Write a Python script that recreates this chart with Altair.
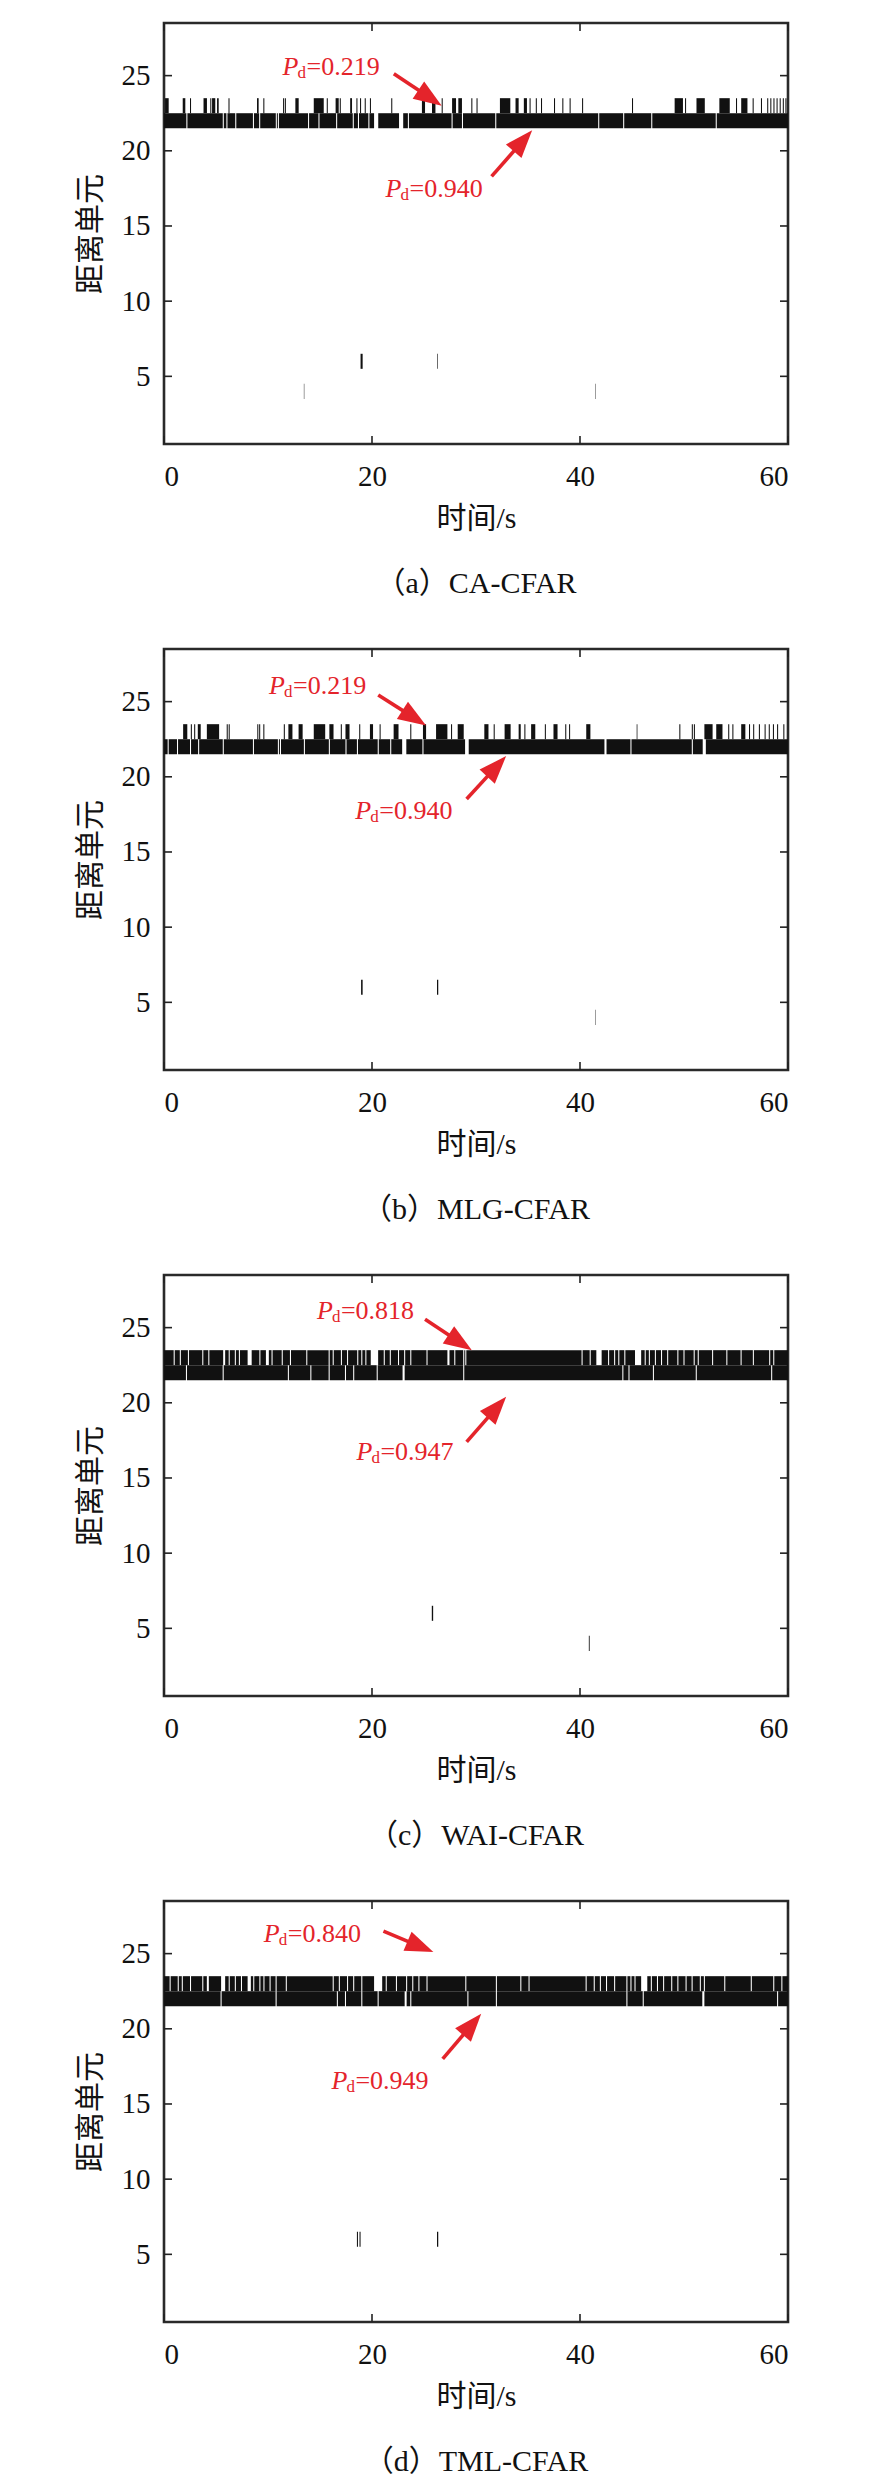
import math
import altair as alt
import pandas as pd

# ---------------- data ----------------
X_DOMAIN = [0, 60]
Y_DOMAIN = [0.5, 28.5]
X_TICKS = [0, 20, 40, 60]
Y_TICKS = [5, 10, 15, 20, 25]
MAIN_CELL = 22
SIDE_CELL = 23

CAPTIONS = ["（a）CA-CFAR", "（b）MLG-CFAR", "（c）WAI-CFAR", "（d）TML-CFAR"]
X_TITLE = "时间/s"
Y_TITLE = "距离单元"

# (a) CA-CFAR
a_cell23_hits = [(0.1, 0.45), (1.8, 2.05), (2.5, 2.6), (3.8, 4.13), (4.45, 4.55), (4.62, 4.93),
                 (5.1, 5.26), (6.2, 6.3), (8.94, 9.1), (9.55, 9.65), (11.45, 11.55), (11.62, 11.72),
                 (12.63, 12.95), (14.4, 15.36), (15.65, 15.75), (16.5, 16.8), (16.9, 17.0),
                 (17.9, 18.08), (18.5, 18.6), (18.85, 18.95), (19.3, 19.4), (19.8, 19.9),
                 (21.85, 21.95), (24.8, 25.1), (25.77, 26.1), (26.7, 26.8), (27.7, 28.08),
                 (28.3, 28.65), (29.55, 29.65), (30.05, 30.15), (32.3, 33.3), (33.8, 34.1),
                 (34.6, 34.9), (35.15, 35.25), (35.75, 35.85), (36.25, 36.35), (37.5, 37.6),
                 (38.3, 38.4), (39.0, 39.1), (40.2, 40.3), (45.0, 45.1), (49.1, 49.9),
                 (50.1, 50.2), (51.2, 52.0), (53.4, 54.4), (55.0, 55.1), (55.5, 56.1),
                 (56.6, 56.7), (57.4, 57.5), (58.0, 58.1), (58.3, 58.4), (58.6, 58.7),
                 (58.9, 59.0), (59.2, 59.3), (59.5, 59.6), (59.75, 59.85)]
a_cell22_gaps = [(2.15, 2.25), (5.65, 5.75), (6.0, 6.1), (6.85, 6.95), (8.55, 8.65), (9.15, 9.25),
                 (10.75, 10.85), (10.95, 11.05), (13.85, 13.95), (14.85, 14.95), (16.55, 16.65),
                 (18.15, 18.25), (18.65, 18.75), (19.65, 19.75), (20.2, 20.6), (22.6, 23.0),
                 (23.45, 23.55), (27.65, 27.75), (28.65, 28.75), (31.85, 31.95), (41.75, 41.85),
                 (44.15, 44.25), (46.85, 46.95), (53.05, 53.15)]
a_isolated = [(6, 18.9, 19.1), (6, 26.25, 26.31), (4, 13.45, 13.49), (4, 41.45, 41.49)]
a_notes = [("0.219", 11.4, 25.02, 22.1, 25.13, 26.7, 23.0),
           ("0.940", 21.3, 16.93, 31.5, 18.3, 35.4, 21.37)]

# (b) MLG-CFAR
b_cell23_hits = [(1.84, 2.24), (2.58, 2.68), (2.9, 3.0), (3.25, 3.53), (4.12, 5.3), (6.03, 6.13),
                 (6.22, 6.32), (8.97, 9.07), (9.15, 9.25), (9.55, 9.65), (11.52, 11.62),
                 (11.96, 12.35), (12.94, 13.33), (14.4, 15.5), (15.9, 16.3), (17.0, 17.1),
                 (17.45, 17.84), (18.77, 18.87), (19.8, 20.1), (20.73, 20.83), (22.08, 22.55),
                 (23.68, 23.78), (24.9, 25.2), (26.16, 27.25), (27.6, 27.7), (28.24, 28.82),
                 (30.8, 31.2), (31.7, 31.8), (32.75, 33.33), (34.1, 34.3), (34.65, 34.75),
                 (35.3, 35.7), (36.62, 36.72), (37.45, 37.84), (38.58, 38.68), (38.95, 39.05),
                 (40.6, 41.0), (45.45, 45.52), (49.55, 49.65), (50.75, 50.85), (50.95, 51.05),
                 (51.96, 52.75), (53.1, 53.7), (54.25, 54.35), (54.65, 54.75), (55.5, 55.9),
                 (56.25, 56.35), (56.65, 56.75), (57.2, 57.3), (57.75, 57.85), (58.15, 58.25),
                 (58.55, 58.65), (58.95, 59.05), (59.55, 59.65)]
b_cell22_gaps = [(0.35, 0.45), (1.25, 1.35), (2.5, 2.6), (3.28, 3.38), (5.65, 5.75), (8.55, 8.65),
                 (10.95, 11.05), (11.15, 11.25), (13.45, 13.55), (15.85, 15.95), (17.45, 17.55),
                 (18.55, 18.65), (20.55, 20.65), (21.75, 21.85), (22.9, 23.3), (24.85, 24.95),
                 (28.95, 29.3), (42.35, 42.55), (44.85, 44.95), (50.75, 50.85), (51.8, 52.1)]
b_isolated = [(6, 18.95, 19.1), (6, 26.25, 26.37), (4, 41.45, 41.49)]
b_notes = [("0.219", 10.1, 25.5, 20.6, 25.44, 25.2, 23.42),
           ("0.940", 18.4, 17.2, 29.1, 18.53, 32.9, 21.38)]

# (c) WAI-CFAR
c_cell23_gaps = [(0.93, 1.03), (1.52, 1.62), (2.3, 2.4), (3.68, 3.78), (4.26, 4.36), (5.69, 5.88),
                 (6.22, 6.32), (6.81, 6.91), (7.2, 7.3), (8.04, 8.43), (9.17, 9.27), (9.8, 10.08),
                 (10.34, 10.44), (11.32, 11.42), (12.11, 12.21), (13.68, 13.78), (15.83, 15.93),
                 (16.22, 16.32), (17.01, 17.11), (17.6, 17.7), (18.58, 18.68), (18.97, 19.07),
                 (19.36, 19.46), (19.88, 20.59), (21.13, 21.23), (21.71, 21.81), (22.5, 22.6),
                 (23.09, 23.19), (23.68, 23.78), (25.24, 25.34), (27.25, 27.45), (27.91, 28.01),
                 (28.77, 28.87), (28.97, 29.07), (40.15, 40.25), (40.93, 41.03), (41.57, 42.08),
                 (42.7, 42.8), (43.28, 43.38), (43.68, 43.78), (44.26, 44.36), (45.29, 45.88),
                 (46.22, 46.32), (46.62, 46.72), (47.2, 47.3), (47.79, 47.89), (48.38, 48.48),
                 (49.36, 49.46), (49.95, 50.05), (50.93, 51.03), (51.32, 51.42), (52.7, 52.8),
                 (54.07, 54.17), (55.44, 55.54), (56.62, 56.72), (58.19, 58.29), (58.58, 58.68)]
c_cell22_gaps = [(2.11, 2.21), (5.64, 5.74), (11.91, 12.01), (14.07, 14.17), (15.83, 15.93),
                 (17.4, 17.5), (18.19, 18.29), (20.45, 20.55), (22.94, 23.14), (28.77, 28.87),
                 (44.07, 44.17), (44.66, 44.76), (47.01, 47.11), (51.13, 51.23), (58.38, 58.48)]
c_isolated = [(6, 25.75, 25.88), (4, 40.85, 40.93)]
c_notes = [("0.818", 14.7, 25.6, 25.1, 25.55, 29.6, 23.5),
           ("0.947", 18.5, 16.2, 29.1, 17.4, 32.9, 20.4)]

# (d) TML-CFAR
d_cell23_gaps = [(0.54, 0.64), (1.32, 1.42), (1.71, 1.81), (2.5, 2.6), (3.68, 3.78), (4.12, 4.31),
                 (5.49, 5.88), (6.22, 6.32), (6.81, 6.91), (7.4, 7.5), (8.04, 8.35), (8.58, 8.68),
                 (9.17, 9.27), (9.56, 9.66), (10.15, 10.25), (10.73, 10.83), (11.71, 11.81),
                 (16.22, 16.32), (16.81, 16.91), (17.6, 17.7), (18.19, 18.29), (18.97, 19.07),
                 (20.2, 20.98), (21.32, 21.42), (22.3, 22.4), (23.28, 23.38), (23.87, 23.97),
                 (24.46, 24.56), (25.24, 25.34), (28.97, 29.07), (31.91, 32.01), (34.26, 34.36),
                 (35.05, 35.15), (40.54, 40.64), (41.32, 41.42), (41.91, 42.01), (42.5, 42.6),
                 (43.28, 43.38), (44.46, 44.56), (44.85, 44.95), (45.24, 45.34), (45.88, 46.47),
                 (46.81, 46.91), (47.4, 47.5), (47.99, 48.09), (48.77, 48.87), (49.36, 49.46),
                 (50.15, 50.25), (50.73, 50.83), (51.52, 51.62), (51.91, 52.01), (53.87, 53.97),
                 (56.42, 56.52), (58.58, 58.68), (59.36, 59.46)]
d_cell22_gaps = [(5.44, 5.54), (10.73, 10.83), (16.62, 16.72), (17.4, 17.5), (18.97, 19.07),
                 (20.54, 20.64), (23.14, 23.33), (23.68, 23.78), (29.17, 29.27), (31.91, 32.01),
                 (44.46, 44.56), (46.03, 46.13), (51.76, 51.96), (58.95, 59.05)]
d_isolated = [(6, 18.55, 18.65), (6, 18.8, 18.9), (6, 26.25, 26.37)]
d_notes = [("0.840", 9.6, 25.77, 21.1, 26.5, 25.9, 25.1),
           ("0.949", 16.1, 16.0, 26.8, 18.0, 30.5, 21.0)]

# ---------------- styling ----------------
W, H = 624, 421
RED = "#e4242b"
INK = "#111111"
SERIF = "Liberation Serif"
MIXED = "Liberation Serif, Noto Sans CJK SC"
TICK_LEN = 8
HEAD_LEN = 28
SPACING = 45
CAPTION_OFFSET = 36


def complement(gaps, lo, hi):
    out, cur = [], lo
    for s, e in sorted(gaps):
        if s > cur:
            out.append((cur, s))
        cur = max(cur, e)
    if cur < hi:
        out.append((cur, hi))
    return out


def cell_rows(intervals, cell):
    return [{"x": s, "x2": e, "y": cell - 0.5, "y2": cell + 0.5} for s, e in intervals]


xs = alt.Scale(domain=X_DOMAIN, nice=False, zero=False)
ys = alt.Scale(domain=Y_DOMAIN, nice=False, zero=False)
x_axis = alt.Axis(values=X_TICKS, title=X_TITLE, format="d")
y_axis = alt.Axis(values=Y_TICKS, title=Y_TITLE, format="d")
X = alt.X("x:Q", scale=xs, axis=x_axis)
Y = alt.Y("y:Q", scale=ys, axis=y_axis)

px_x = W / (X_DOMAIN[1] - X_DOMAIN[0])
px_y = H / (Y_DOMAIN[1] - Y_DOMAIN[0])


def panel(caption, cell23, cell23_is_gaps, cell22_gaps, isolated, notes):
    rows = []
    hits23 = complement(cell23, 0, 60) if cell23_is_gaps else cell23
    rows += cell_rows(hits23, SIDE_CELL)
    rows += cell_rows(complement(cell22_gaps, 0, 60), MAIN_CELL)
    rows += [{"x": s, "x2": e, "y": c - 0.5, "y2": c + 0.5} for c, s, e in isolated]
    det = pd.DataFrame(rows)

    rects = alt.Chart(det).mark_rect(color=INK, strokeWidth=0).encode(
        x=X, x2="x2:Q", y=Y, y2="y2:Q")

    xt = pd.DataFrame({"x": X_TICKS})
    yt = pd.DataFrame({"y": Y_TICKS})
    rule = dict(color="#222222", strokeWidth=1.6)
    t_bottom = alt.Chart(xt).mark_rule(**rule).encode(x=X, y=alt.value(H), y2=alt.value(H - TICK_LEN))
    t_top = alt.Chart(xt).mark_rule(**rule).encode(x=X, y=alt.value(0), y2=alt.value(TICK_LEN))
    t_left = alt.Chart(yt).mark_rule(**rule).encode(y=Y, x=alt.value(0), x2=alt.value(TICK_LEN))
    t_right = alt.Chart(yt).mark_rule(**rule).encode(y=Y, x=alt.value(W), x2=alt.value(W - TICK_LEN))

    text_rows, shaft_rows, head_rows = [], [], []
    for label, tx, ty, sx0, sy0, hx, hy in notes:
        text_rows.append({"x": tx, "y": ty, "label": "=" + label})
        dxp = (hx - sx0) * px_x
        dyp = -(hy - sy0) * px_y
        ln = math.hypot(dxp, dyp)
        ux, uy = dxp / ln, dyp / ln
        ang = math.degrees(math.atan2(dxp, -dyp)) % 360
        ex = hx - 0.6 * HEAD_LEN * ux / px_x
        ey = hy + 0.6 * HEAD_LEN * uy / px_y
        shaft_rows.append({"x": sx0, "y": sy0, "x2": ex, "y2": ey})
        head_rows.append({"x": hx, "y": hy, "angle": ang})
    tdf = pd.DataFrame(text_rows)
    base_t = alt.Chart(tdf)
    t_p = base_t.mark_text(text="P", font=SERIF, fontStyle="italic", fontSize=26, color=RED,
                           align="left", baseline="alphabetic").encode(x=X, y=Y)
    t_d = base_t.mark_text(text="d", font=SERIF, fontSize=17, color=RED, align="left",
                           baseline="alphabetic", dx=15, dy=3).encode(x=X, y=Y)
    t_v = base_t.mark_text(font=SERIF, fontSize=26, color=RED, align="left",
                           baseline="alphabetic", dx=24).encode(x=X, y=Y, text="label:N")
    shafts = alt.Chart(pd.DataFrame(shaft_rows)).mark_rule(color=RED, strokeWidth=3.6).encode(
        x=X, y=Y, x2="x2:Q", y2="y2:Q")
    heads = alt.Chart(pd.DataFrame(head_rows)).mark_point(
        shape="M0,0L0.37,1L-0.37,1Z", filled=True, size=(2 * HEAD_LEN) ** 2, color=RED,
        opacity=1, strokeWidth=0).encode(x=X, y=Y, angle=alt.Angle("angle:Q", scale=None))

    return alt.layer(rects, t_bottom, t_top, t_left, t_right, shafts, heads, t_p, t_d, t_v).properties(
        width=W, height=H,
        title=alt.TitleParams(text=caption, orient="bottom", font=MIXED, fontSize=30,
                              fontWeight="normal", color=INK, offset=CAPTION_OFFSET))


charts = [
    panel(CAPTIONS[0], a_cell23_hits, False, a_cell22_gaps, a_isolated, a_notes),
    panel(CAPTIONS[1], b_cell23_hits, False, b_cell22_gaps, b_isolated, b_notes),
    panel(CAPTIONS[2], c_cell23_gaps, True, c_cell22_gaps, c_isolated, c_notes),
    panel(CAPTIONS[3], d_cell23_gaps, True, d_cell22_gaps, d_isolated, d_notes),
]

chart = alt.vconcat(*charts, spacing=SPACING).properties(
    padding={"left": 65, "top": 12, "right": 5, "bottom": 5}
).configure_view(
    stroke="#2a2a2a", strokeWidth=2.6
).configure_axis(
    ticks=False, tickSize=0, domain=False, grid=False,
    labelFont=SERIF, labelFontSize=29, labelColor=INK,
    titleFont=MIXED, titleFontSize=30, titleFontWeight="normal", titleColor=INK,
).configure_axisX(
    labelPadding=18, titlePadding=12
).configure_axisY(
    labelPadding=14, titlePadding=16
)

chart.save("out.html", embed_options={"renderer": "svg", "actions": False})
